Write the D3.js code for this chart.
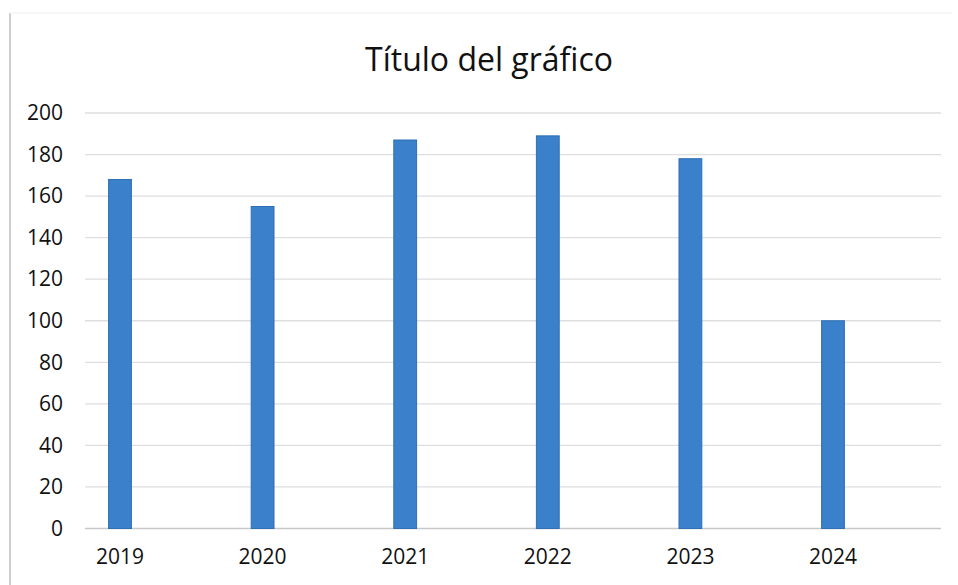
<!DOCTYPE html>
<html>
<head>
<meta charset="utf-8">
<script src="https://cdn.jsdelivr.net/npm/d3@7"></script>
<style>
  body { margin: 0; background: #fff; }
  text { font-family: "Open Sans", "Noto Sans", sans-serif; fill: #111; }
</style>
</head>
<body>
<div id="chart"></div>
<script>
// data
const years = ["2019", "2020", "2021", "2022", "2023", "2024"];
const values = [168, 155, 187, 189, 178, 100];
const yTicks = [0, 20, 40, 60, 80, 100, 120, 140, 160, 180, 200];

const width = 958, height = 585;

const svg = d3.select("#chart")
  .append("svg")
    .attr("width", width)
    .attr("height", height);

// faint frame of the chart area
svg.append("line")
  .attr("x1", 10).attr("x2", 10)
  .attr("y1", 13).attr("y2", 585)
  .attr("stroke", "#cfcfcf").attr("stroke-width", 2);
svg.append("line")
  .attr("x1", 10).attr("x2", 952)
  .attr("y1", 13).attr("y2", 13)
  .attr("stroke", "#eeeeee").attr("stroke-width", 1);

// title
svg.append("text")
  .attr("x", 489)
  .attr("y", 71)
  .attr("text-anchor", "middle")
  .style("font-size", "32px")
  .text("Título del gráfico");

// scales
const x = d3.scaleBand()
  .domain(years)
  .range([48.7, 904.3])
  .paddingInner(0.84)
  .paddingOuter(0.42);

const y = d3.scaleLinear()
  .domain([0, 200])
  .range([528.5, 113]);

// gridlines
svg.append("g")
  .selectAll("line")
  .data(yTicks)
  .join("line")
    .attr("x1", 85)
    .attr("x2", 941)
    .attr("y1", d => y(d))
    .attr("y2", d => y(d))
    .attr("stroke", d => d === 0 ? "#c8c8c8" : "#dedede")
    .attr("stroke-width", 1.3);

// y axis labels
const yAxis = svg.append("g")
  .attr("transform", "translate(73,0)")
  .call(d3.axisLeft(y).tickValues(yTicks).tickSize(0).tickPadding(10));
yAxis.select(".domain").remove();
yAxis.selectAll("text")
  .style("font-size", "21px")
  .style("font-family", '"Open Sans", "Noto Sans", sans-serif')
  .attr("fill", "#111");

// bars
svg.append("g")
  .selectAll("rect")
  .data(years)
  .join("rect")
    .attr("x", d => x(d))
    .attr("y", (d, i) => y(values[i]))
    .attr("width", x.bandwidth())
    .attr("height", (d, i) => y(0) - y(values[i]))
    .attr("fill", "#3a80ca")
    .attr("stroke", "#2f6fb3")
    .attr("stroke-width", 1);

// x axis labels
const xAxis = svg.append("g")
  .attr("transform", "translate(0,541)")
  .call(d3.axisBottom(x).tickSize(0).tickPadding(8));
xAxis.select(".domain").remove();
xAxis.selectAll("text")
  .style("font-size", "21px")
  .style("font-family", '"Open Sans", "Noto Sans", sans-serif')
  .attr("fill", "#111");
</script>
</body>
</html>
